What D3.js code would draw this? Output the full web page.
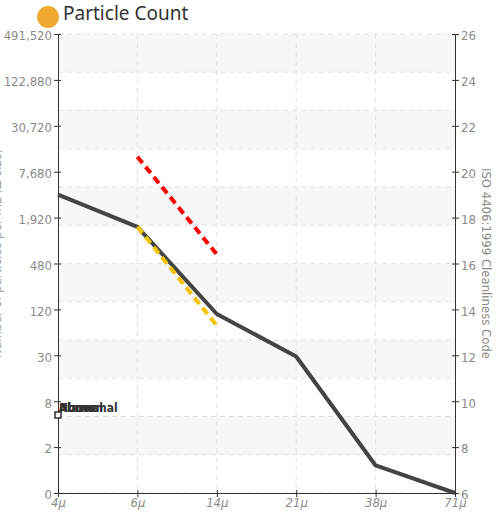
<!DOCTYPE html>
<html>
<head>
<meta charset="utf-8">
<script src="https://cdn.jsdelivr.net/npm/d3@7"></script>
<style>
  body { margin: 0; background: #fff; }
  .axis text { font-family: "Liberation Sans Narrow", "DejaVu Sans Condensed", sans-serif; font-size: 13px; fill: #8a8a8a; }
  .axis path, .axis line { stroke: #333; }
</style>
</head>
<body>
<div id="chart"></div>
<script>
// categories (particle sizes)
var sizes = ['4μ', '6μ', '14μ', '21μ', '38μ', '71μ'];
// ISO code ticks and matching particle count labels
var isoTicks = [6, 8, 10, 12, 14, 16, 18, 20, 22, 24, 26];
var countLabels = ['0', '2', '8', '30', '120', '480', '1,920', '7,680', '30,720', '122,880', '491,520'];
// measured cleanliness code per size
var measured = [19.0, 17.6, 13.8, 11.95, 7.2, 6.0];
// limit lines (6μ -> 14μ)
var limitSizes = ['6μ', '14μ'];
var alarmLine = [20.65, 16.4];
var warnLine = [17.6, 13.3];
var legendNames = ['Normal', 'Above', 'Alarm', 'Abnormal'];

var margin = {top: 34, bottom: 24, left: 58, right: 45};
var width = 500 - margin.left - margin.right;
var height = 517 - margin.top - margin.bottom;

var svg = d3.select('#chart').append('svg')
    .attr('width', 500)
    .attr('height', 517);

var g = svg.append('g')
    .attr('transform', `translate(${margin.left},${margin.top})`);

// Scales setup
var xScale = d3.scalePoint().domain(sizes).range([0, width]);
var yScale = d3.scaleLinear().domain([6, 26]).range([height, 0]);
var gridScale = d3.scaleLinear().domain([0, 12]).range([0, height]);

// background bands + grid
var bands = d3.range(12).filter((i) => i % 2 === 0);
g.selectAll('.band').data(bands).enter().append('rect')
    .attr('class', 'band')
    .attr('x', 0)
    .attr('width', width)
    .attr('y', (d) => gridScale(d))
    .attr('height', gridScale(1) - gridScale(0))
    .attr('fill', '#f7f7f7');

g.selectAll('.hgrid').data(d3.range(13)).enter().append('line')
    .attr('x1', 0).attr('x2', width)
    .attr('y1', (d) => gridScale(d)).attr('y2', (d) => gridScale(d))
    .attr('stroke', '#e2e2e2')
    .attr('stroke-dasharray', '5,4');

g.selectAll('.vgrid').data(sizes.slice(1, -1)).enter().append('line')
    .attr('y1', 0).attr('y2', height)
    .attr('x1', (d) => xScale(d)).attr('x2', (d) => xScale(d))
    .attr('stroke', '#e2e2e2')
    .attr('stroke-dasharray', '5,4');

// Axis setup
var leftAxis = d3.axisLeft(yScale).tickValues(isoTicks)
    .tickSizeInner(4).tickSizeOuter(0).tickPadding(2)
    .tickFormat((d, i) => countLabels[i]);
var rightAxis = d3.axisRight(yScale).tickValues(isoTicks)
    .tickSizeInner(4).tickSizeOuter(0).tickPadding(2);
var bottomAxis = d3.axisBottom(xScale).tickSizeInner(4).tickSizeOuter(0).tickPadding(2);

var gLeft = g.append('g').attr('class', 'axis').call(leftAxis);
var gRight = g.append('g').attr('class', 'axis').attr('transform', `translate(${width},0)`).call(rightAxis);
var gBottom = g.append('g').attr('class', 'axis').attr('transform', `translate(0,${height})`).call(bottomAxis);

// ticks cross the axis line
gLeft.selectAll('.tick line').attr('x1', 3);
gRight.selectAll('.tick line').attr('x1', -3);
gBottom.selectAll('.tick line').attr('y1', -3);
gLeft.selectAll('.tick text').attr('dy', '0.45em');
gRight.selectAll('.tick text').attr('dy', '0.45em');
gBottom.selectAll('.tick text').attr('dy', '0.6em').style('font-style', 'italic');

// axis titles
g.append('text')
    .attr('transform', `translate(${width + 27},${height / 2}) rotate(90)`)
    .attr('text-anchor', 'middle')
    .style('font-family', '"Liberation Sans Narrow", "DejaVu Sans Condensed", sans-serif')
    .style('font-size', '13px')
    .attr('fill', '#8a8a8a')
    .text('ISO 4406:1999 Cleanliness Code');

// left title sits mostly off the page, as in the original
g.append('text')
    .attr('transform', `translate(${-margin.left + 1},${height / 2 - 10}) rotate(-90)`)
    .attr('text-anchor', 'middle')
    .style('font-family', '"Liberation Sans Narrow", "DejaVu Sans Condensed", sans-serif')
    .style('font-size', '13px')
    .attr('fill', '#9a9a9a')
    .text('Number of particles per mL (≥ size)');

// lines
var line = d3.line().x((d) => xScale(d.size)).y((d) => yScale(d.code));

g.append('path')
    .datum(sizes.map((s, i) => ({size: s, code: measured[i]})))
    .attr('d', line)
    .attr('fill', 'none')
    .attr('stroke', '#444')
    .attr('stroke-width', 4)
    .attr('stroke-linejoin', 'round');

g.append('path')
    .datum(limitSizes.map((s, i) => ({size: s, code: warnLine[i]})))
    .attr('d', line)
    .attr('fill', 'none')
    .attr('stroke', '#f5c400')
    .attr('stroke-width', 4)
    .attr('stroke-dasharray', '8,5');

g.append('path')
    .datum(limitSizes.map((s, i) => ({size: s, code: alarmLine[i]})))
    .attr('d', line)
    .attr('fill', 'none')
    .attr('stroke', '#f00')
    .attr('stroke-width', 4)
    .attr('stroke-dasharray', '8,5');

// legend (labels stacked on top of each other)
g.append('rect')
    .attr('x', -3).attr('y', yScale(9.4) - 3)
    .attr('width', 6).attr('height', 6)
    .attr('fill', '#fff').attr('stroke', '#000').attr('stroke-width', 1.2);

g.selectAll('.legend').data(legendNames).enter().append('text')
    .attr('x', 1)
    .attr('y', yScale(9.4) - 3)
    .style('font-family', '"Liberation Sans Narrow", "DejaVu Sans Condensed", sans-serif')
    .style('font-size', '12px')
    .style('font-weight', 'bold')
    .attr('fill', '#333')
    .text((d) => d);

// title
svg.append('circle').attr('cx', 48).attr('cy', 17).attr('r', 11).attr('fill', '#eeaa30');
svg.append('text')
    .attr('x', 63).attr('y', 20)
    .style('font-family', '"Noto Sans", sans-serif')
    .style('font-size', '19px')
    .attr('fill', '#333')
    .text('Particle Count');
</script>
</body>
</html>
